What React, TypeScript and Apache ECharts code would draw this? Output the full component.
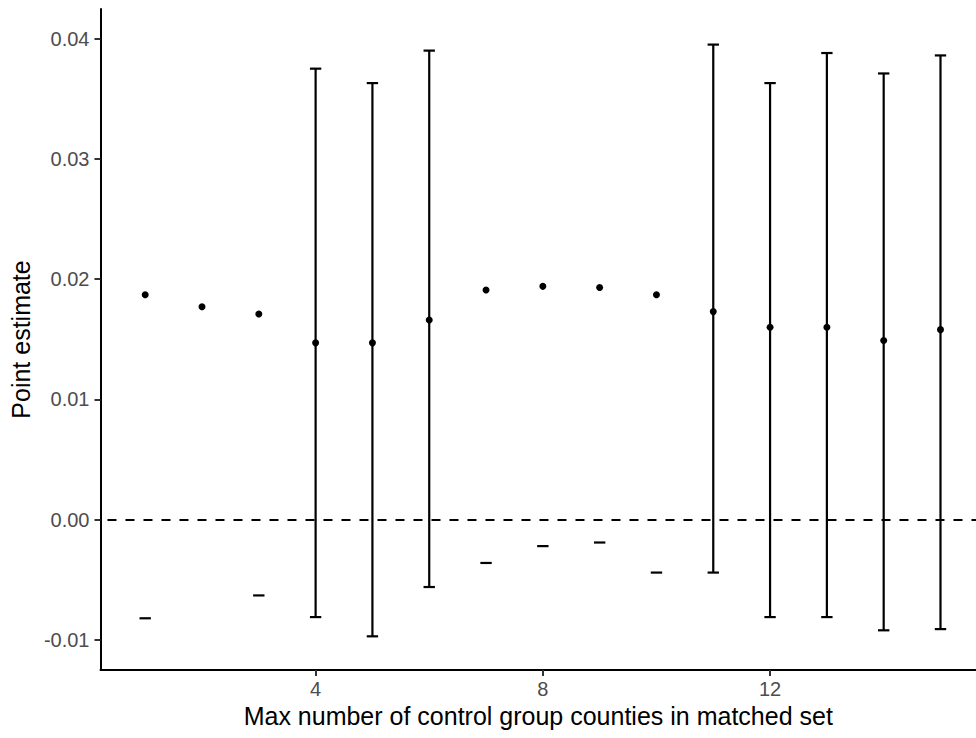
import React, { useEffect, useRef } from "react";
import * as echarts from "echarts";

// Max number of control group counties in matched set
const matchSizes = [1, 2, 3, 4, 5, 6, 7, 8, 9, 10, 11, 12, 13, 14, 15];
// Point estimates
const estimates = [0.0187, 0.0177, 0.0171, 0.0147, 0.0147, 0.0166, 0.0191, 0.0194, 0.0193, 0.0187, 0.0173, 0.016, 0.016, 0.0149, 0.0158];
// Lower bounds (null = outside the plotted range)
const lowers = [-0.0082, null, -0.0063, -0.0081, -0.0097, -0.0056, -0.0036, -0.0022, -0.0019, -0.0044, -0.0044, -0.0081, -0.0081, -0.0092, -0.0091];
// Upper bounds (null = outside the plotted range)
const uppers = [null, null, null, 0.0375, 0.0363, 0.039, null, null, null, null, 0.0395, 0.0363, 0.0388, 0.0371, 0.0386];

const xTicks = [4, 8, 12];
const yTicks = [-0.01, 0, 0.01, 0.02, 0.03, 0.04];

const FONT = "Liberation Sans, Arial, sans-serif";

export default function App() {
  const ref = useRef<HTMLDivElement>(null);
  useEffect(() => {
    if (!ref.current) return;
    const chart = echarts.init(ref.current, null, { renderer: "svg" });
    const errData = matchSizes.map((x, i) => [x, lowers[i] ?? NaN, uppers[i] ?? NaN]);
    const capHalf = 0.1;
    chart.setOption({
      animation: false,
      backgroundColor: "#ffffff",
      grid: { left: 100, right: 0, top: 9, bottom: 68, containLabel: false },
      xAxis: {
        type: "value",
        min: 0.213,
        max: 15.625,
        name: "Max number of control group counties in matched set",
        nameLocation: "middle",
        nameGap: 27,
        nameTextStyle: { fontFamily: FONT, fontSize: 25, color: "#000" },
        axisLine: { show: true, onZero: false, lineStyle: { color: "#000", width: 2 } },
        axisTick: { show: true, length: 6, lineStyle: { color: "#333", width: 2 }, customValues: xTicks },
        axisLabel: { fontFamily: FONT, fontSize: 20, color: "#4d4d4d", margin: 9, customValues: xTicks },
        splitLine: { show: false },
      },
      yAxis: {
        type: "value",
        min: -0.0125,
        max: 0.04246,
        name: "Point estimate",
        nameLocation: "middle",
        nameGap: 62,
        nameTextStyle: { fontFamily: FONT, fontSize: 25, color: "#000" },
        axisLine: { show: true, onZero: false, lineStyle: { color: "#000", width: 2 } },
        axisTick: { show: true, length: 6, lineStyle: { color: "#333", width: 2 }, customValues: yTicks },
        axisLabel: {
          fontFamily: FONT,
          fontSize: 20,
          color: "#4d4d4d",
          margin: 11,
          customValues: yTicks,
          formatter: (v: number) => v.toFixed(2),
        },
        splitLine: { show: false },
      },
      series: [
        {
          type: "custom",
          name: "interval",
          encode: { x: 0, y: [1, 2] },
          data: errData,
          renderItem: (params: any, api: any) => {
            const x = api.value(0);
            const lo = api.value(1);
            const hi = api.value(2);
            const children: any[] = [];
            const style = { stroke: "#000", lineWidth: 2.2 };
            const hasLo = lo != null && !isNaN(lo);
            const hasHi = hi != null && !isNaN(hi);
            if (hasLo && hasHi) {
              const a = api.coord([x, lo]);
              const b = api.coord([x, hi]);
              children.push({ type: "line", shape: { x1: a[0], y1: a[1], x2: b[0], y2: b[1] }, style });
            }
            if (hasHi) {
              const l = api.coord([x - capHalf, hi]);
              const r = api.coord([x + capHalf, hi]);
              children.push({ type: "line", shape: { x1: l[0], y1: l[1], x2: r[0], y2: r[1] }, style });
            }
            if (hasLo) {
              const l = api.coord([x - capHalf, lo]);
              const r = api.coord([x + capHalf, lo]);
              children.push({ type: "line", shape: { x1: l[0], y1: l[1], x2: r[0], y2: r[1] }, style });
            }
            return { type: "group", children };
          },
          markLine: {
            silent: true,
            symbol: "none",
            label: { show: false },
            lineStyle: { color: "#000", width: 2, type: [9, 9], dashOffset: 11, opacity: 1 },
            emphasis: { disabled: true },
            data: [{ yAxis: 0 }],
          },
          z: 2,
        },
        {
          type: "scatter",
          name: "estimate",
          data: matchSizes.map((x, i) => [x, estimates[i]]),
          symbol: "circle",
          symbolSize: 7,
          itemStyle: { color: "#000", opacity: 1 },
          z: 3,
        },
      ],
    });
    return () => chart.dispose();
  }, []);
  return (
    <div
      ref={ref}
      style={{ position: "fixed", left: 0, top: 0, width: 976, height: 738, background: "#fff" }}
    />
  );
}
